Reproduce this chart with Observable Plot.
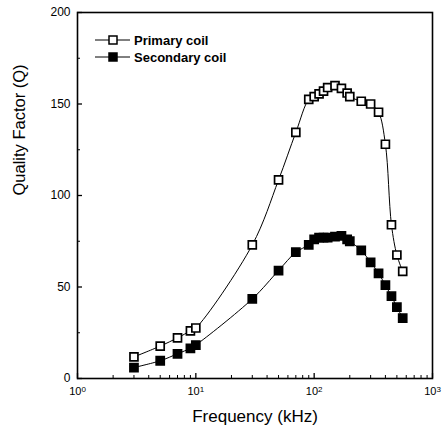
<!DOCTYPE html>
<html>
<head>
<meta charset="utf-8">
<script src="https://cdn.jsdelivr.net/npm/d3@7"></script>
<script src="https://cdn.jsdelivr.net/npm/@observablehq/plot@0.6"></script>
<style>
  html, body { margin: 0; padding: 0; background: white; }
  svg { display: block; }
</style>
</head>
<body>
<div id="chart"></div>
<script>
// Frequencies (kHz)
const frequency = [3, 5, 7, 9, 10, 30, 50, 70, 90, 100, 110, 120, 130, 150, 170, 190, 200, 250, 300, 350, 400, 450, 500, 560];
// Quality factor, primary coil (open squares)
const primaryQ = [11.8, 17.7, 22.2, 26, 27.6, 73, 108.5, 134.5, 152.5, 154, 155.5, 157, 159, 160, 158.5, 156, 154, 151.5, 150, 145.5, 128, 84, 67.5, 58.5];
// Quality factor, secondary coil (filled squares)
const secondaryQ = [6, 9.7, 13.5, 16.5, 18.3, 43.5, 59, 69, 73, 76, 77, 77, 77, 77.5, 78, 76, 75, 70, 63.5, 57.5, 51, 45, 39, 33];

const seriesNames = ["Primary coil", "Secondary coil"];
const xTicks = [1, 10, 100, 1000];
const xMinor = [];
for (const dec of [1, 10, 100]) for (let k = 2; k <= 9; k++) xMinor.push(dec * k);
const yTicks = [0, 50, 100, 150, 200];
const yMinor = [25, 75, 125, 175];

const primary = frequency.map((f, i) => ({f, q: primaryQ[i]}));
const secondary = frequency.map((f, i) => ({f, q: secondaryQ[i]}));

const font = "Liberation Sans, Arial, Helvetica, sans-serif";

const chart = Plot.plot({
  width: 444,
  height: 435,
  marginLeft: 77,
  marginRight: 12,
  marginTop: 12,
  marginBottom: 57,
  style: {fontFamily: font, fontSize: "12px", background: "white", color: "black", overflow: "visible"},
  x: {type: "log", domain: [1, 1000]},
  y: {domain: [0, 200]},
  marks: [
    Plot.frame({stroke: "black", strokeWidth: 1.6}),
    // y tick labels
    Plot.axisY({ticks: yTicks, tickSize: 0, tickPadding: 7, label: null, fontSize: 12}),
    // inward y ticks
    Plot.axisY({ticks: yTicks, tickSize: 5, dx: 5, fill: "none", label: null, strokeWidth: 1.3}),
    Plot.axisY({ticks: yMinor, tickSize: 3, dx: 3, fill: "none", label: null, strokeWidth: 1}),
    // x tick labels
    Plot.axisX({ticks: xTicks, tickSize: 0, tickPadding: 9, label: null, fontSize: 11,
      tickFormat: d => "10^" + Math.round(Math.log10(d))}),
    // inward x ticks
    Plot.axisX({ticks: xTicks, tickSize: 5, dy: -5, fill: "none", label: null, strokeWidth: 1.3}),
    Plot.axisX({ticks: xMinor, tickSize: 3, dy: -3, fill: "none", label: null, strokeWidth: 1}),
    // lines
    Plot.line(primary, {x: "f", y: "q", curve: "catmull-rom", stroke: "black", strokeWidth: 1}),
    Plot.line(secondary, {x: "f", y: "q", curve: "catmull-rom", stroke: "black", strokeWidth: 1}),
    // markers
    Plot.dot(primary, {x: "f", y: "q", symbol: "square", r: 4.5, fill: "white", stroke: "black", strokeWidth: 1.7}),
    Plot.dot(secondary, {x: "f", y: "q", symbol: "square", r: 4.6, fill: "black", stroke: "black", strokeWidth: 1.6}),
    // axis titles
    Plot.text(["Frequency (kHz)"], {frameAnchor: "bottom", dy: 43, text: d => d, fontSize: 17, fill: "black"}),
    Plot.text(["Quality Factor (Q)"], {frameAnchor: "left", dx: -58, rotate: -90, text: d => d, fontSize: 16.5, fill: "black"})
  ]
});

// superscript exponents on x tick labels
d3.select(chart).selectAll('g[aria-label="x-axis tick label"] text').each(function () {
  const t = this.textContent;
  if (t.startsWith("10^")) {
    const e = t.slice(3);
    const sel = d3.select(this);
    sel.text("10");
    sel.append("tspan").attr("dy", "-0.45em").attr("font-size", "8px").text(e);
  }
});

// legend inside plot area (top-left)
const svg = d3.select(chart);
const lg = svg.append("g").attr("font-family", font).attr("font-weight", "bold")
  .attr("font-size", 13).attr("text-anchor", "start");
seriesNames.forEach((name, i) => {
  const y = 40 + i * 17;
  lg.append("line").attr("x1", 95).attr("x2", 130).attr("y1", y).attr("y2", y)
    .attr("stroke", "black").attr("stroke-width", 1);
  lg.append("rect").attr("x", 109).attr("y", y - 4).attr("width", 8).attr("height", 8)
    .attr("fill", i === 0 ? "white" : "black").attr("stroke", "black").attr("stroke-width", 1.5);
  lg.append("text").attr("x", 134).attr("y", y).attr("dy", "0.35em").attr("fill", "black")
    .attr("text-anchor", "start").text(name);
});

document.getElementById("chart").appendChild(chart);
</script>
</body>
</html>
